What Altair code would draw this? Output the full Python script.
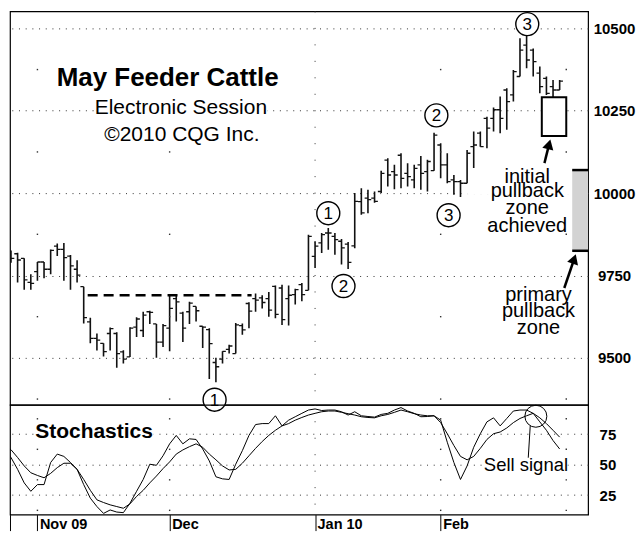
import altair as alt
import pandas as pd

# ---------------- data ----------------
bar_open = [9815, 9824, 9816, 9802, 9729, 9762, 9791, 9769, 9839, 9829, 9809, 9769, 9716, 9609, 9559, 9544, 9574,
            9574, 9518, 9503, 9593, 9583, 9640, 9603, 9548, 9590, 9680, 9636, 9640, 9656, 9596, 9586, 9486, 9496,
            9526, 9513, 9598, 9665, 9680, 9682, 9680, 9717, 9712, 9680, 9692, 9722, 9705, 9808, 9849, 9879, 9869,
            9854, 9845, 9840, 9974, 9985, 9985, 10005, 10100, 10065, 10115, 10060, 10040, 10086, 10065, 10068,
            10146, 10086, 10040, 10035, 10030, 10141, 10182, 10227, 10227, 10253, 10313, 10298, 10354, 10449,
            10434, 10364, 10348, 10323, 10313]
bar_high = [9830, 9826, 9819, 9802, 9754, 9791, 9791, 9829, 9847, 9849, 9812, 9796, 9716, 9622, 9574, 9544, 9592,
            9578, 9523, 9593, 9623, 9640, 9643, 9603, 9603, 9690, 9688, 9640, 9670, 9656, 9596, 9590, 9500, 9520,
            9540, 9606, 9604, 9669, 9695, 9690, 9700, 9720, 9722, 9720, 9710, 9727, 9874, 9854, 9879, 9894, 9879,
            9861, 9852, 10000, 10015, 10010, 10005, 10068, 10106, 10086, 10121, 10091, 10086, 10113, 10101, 10183,
            10151, 10121, 10055, 10040, 10131, 10187, 10187, 10232, 10260, 10293, 10318, 10374, 10470, 10480,
            10439, 10384, 10354, 10343, 10343]
bar_low = [9785, 9789, 9729, 9707, 9707, 9734, 9742, 9754, 9809, 9734, 9707, 9729, 9604, 9544, 9522, 9504, 9522,
           9470, 9483, 9503, 9563, 9563, 9603, 9500, 9533, 9520, 9610, 9548, 9603, 9610, 9530, 9436, 9426, 9483,
           9513, 9513, 9570, 9590, 9640, 9650, 9625, 9620, 9600, 9598, 9662, 9672, 9705, 9773, 9818, 9828, 9813,
           9783, 9770, 9833, 9934, 9939, 9971, 10000, 10020, 10012, 10015, 10020, 10015, 10010, 10005, 10068,
           10045, 10030, 9995, 9988, 10030, 10076, 10141, 10136, 10187, 10182, 10192, 10278, 10354, 10379,
           10354, 10303, 10298, 10273, 10313]
bar_close = [9801, 9802, 9797, 9737, 9726, 9791, 9769, 9826, 9829, 9804, 9779, 9751, 9622, 9559, 9554, 9519, 9589,
             9513, 9496, 9590, 9618, 9630, 9638, 9548, 9598, 9650, 9670, 9590, 9666, 9643, 9593, 9543, 9473, 9520,
             9536, 9600, 9585, 9642, 9675, 9668, 9645, 9632, 9616, 9690, 9707, 9692, 9869, 9839, 9874, 9879, 9859,
             9834, 9790, 9975, 9940, 9980, 9975, 10060, 10055, 10055, 10045, 10050, 10075, 10060, 10096, 10176,
             10086, 10035, 10035, 10030, 10121, 10146, 10141, 10197, 10253, 10227, 10278, 10369, 10434, 10404,
             10399, 10323, 10303, 10313, 10340]

stoch_fast = [62, 55.8, 46.1, 35, 28.1, 33.6, 33.6, 51.7, 58.6, 56.7, 51.7, 46.1, 33.6, 22.5, 15.6, 10, 12.8, 11.1,
              10.6, 18.3, 28.1, 37.8, 50.3, 49.4, 57.2, 67, 73.9, 67, 71.1, 70.6, 62.8, 53, 40, 38.3, 37.8, 50.3,
              61.4, 73.9, 82.8, 83.6, 83.6, 90, 81.7, 86.4, 89.2, 92, 94.7, 95.6, 94.3, 94.7, 94.7, 93.3, 90.6,
              93.3, 90, 89.4, 88.9, 91.1, 92, 94.7, 96.7, 93.9, 92, 89.2, 89.4, 90, 86.4, 68.3, 51.7, 37.8, 48.9,
              64.2, 75.3, 85, 88.3, 81.7, 87.8, 93.9, 94.7, 94.7, 92, 85, 78.1, 69.7, 62.8]
stoch_slow = [66, 62.2, 55.8, 48.9, 43.3, 41.1, 39.2, 42.8, 47.5, 51.1, 51.1, 46.1, 37.8, 28.9, 21.1, 18.9, 17, 15.6,
              14.2, 17.8, 23.9, 28.9, 35, 40.6, 46.7, 52.2, 58.6, 62, 64.7, 67, 64.2, 58.6, 53.9, 48.9, 45.6, 46.1,
              51.1, 57.2, 63.3, 68.9, 73.9, 78.1, 81.7, 83.6, 86.4, 88.6, 90.6, 92, 93.3, 93.9, 93.9, 92.8, 91.7,
              90.6, 89.2, 88.6, 88.3, 90, 91.1, 92.8, 94.7, 93.3, 91.7, 90.6, 90, 90, 84.4, 75.3, 65.6, 56.7, 53.9,
              56.7, 63.3, 70.6, 75.3, 76.7, 80, 84.4, 87.8, 90, 92, 88.3, 83.6, 78.1, 72.5]

month_ticks = [0.85, 5, 25, 47, 66]
month_labels = ["", "Nov 09", "Dec", "Jan 10", "Feb"]
dense_grid_months = [47]
sparse_grid_months = [5, 25, 66, 85]
price_ticks = [9500, 9750, 10000, 10250, 10500]
price_half_levels = [9375, 9625, 9875, 10125, 10375]
stoch_ticks = [25, 50, 75]
stoch_half_levels = [12.5, 37.5, 62.5, 87.5]

x_domain = [0.85, 88.3]
price_domain = [9357.6, 10551.5]
stoch_domain = [9, 99]

# annotations (bar index / price or stochastic value)
neckline = {"i": [12.6], "i2": [37.4], "p": [9690]}
initial_box = {"i": [81.3], "i2": [85.0], "p": [10173], "p2": [10291]}
primary_zone = {"i": [85.9], "i2": [88.3], "p": [9825], "p2": [10070]}
wave_labels = ["1", "2", "3", "1", "2", "3"]
wave_i = [31.8, 51.3, 67.2, 49.0, 65.35, 79.1]
wave_p = [9373, 9718, 9933, 9939, 10236, 10513]
title_text = ["May Feeder Cattle"]
title_i = [24.7]
title_p = [10350]
sub_text = ["Electronic Session", "©2010 CQG Inc."]
sub_i = [26.7, 26.85]
sub_p = [10258, 10176]
initial_text = ["initial", "pullback", "zone", "achieved"]
initial_i = [79.1, 79.1, 79.1, 79.1]
initial_p = [10032, 9987, 9936, 9881]
primary_text = ["primary", "pullback", "zone"]
primary_i = [80.8, 80.8, 80.8]
primary_p = [9673, 9624, 9573]
arrow_i = [81.7, 84.7]
arrow_p = [10091, 9712]
arrow_i2 = [82.4, 86.2]
arrow_p2 = [10148, 9800]
arrow_angle = [15, 19]
sell_circle_i = [80.4]
sell_circle_v = [89.6]
sell_line = {"i": [79.55], "v": [81.8], "i2": [79.25], "v2": [55.6]}
# gridline gaps behind the texts that sit on a gridline
price_gaps = {"i": [13.7, 70.0], "i2": [39.8, 85.9], "p": [10250, 10000]}
stoch_gaps = {"i": [4.6, 72.6], "i2": [22.6, 85.2], "v": [75, 50]}

FONT = "Liberation Sans"
INK = "#111"

xs = alt.Scale(domain=x_domain, nice=False, zero=False)
ps = alt.Scale(domain=price_domain, nice=False, zero=False)
ss = alt.Scale(domain=stoch_domain, nice=False, zero=False)

ohlc = pd.DataFrame({"i": list(range(len(bar_open))), "o": bar_open, "h": bar_high,
                     "l": bar_low, "c": bar_close})
ohlc["il"] = ohlc["i"] - 0.5
ohlc["ir"] = ohlc["i"] + 0.5

price_axis = alt.Axis(orient="right", values=price_ticks, format="d", grid=True, gridDash=[1, 5.7],
                      gridColor="#333", ticks=False, domain=False, labelFont=FONT, labelFontWeight="bold",
                      labelFontSize=15, labelColor="#000", labelAlign="center", labelPadding=26, title=None)
stoch_axis = alt.Axis(orient="right", values=stoch_ticks, grid=True, gridDash=[1, 5.7], gridColor="#333",
                      ticks=False, domain=False, labelFont=FONT, labelFontWeight="bold", labelFontSize=15,
                      labelColor="#000", labelAlign="left", labelPadding=11, title=None)
price_x_axis = alt.Axis(labels=False, ticks=False, domain=False, grid=False, title=None)
label_expr = " : ".join(f"datum.value == {v} ? '{t}'" for v, t in zip(month_ticks, month_labels)) + " : ''"
month_axis = alt.Axis(values=month_ticks, labelExpr=label_expr, grid=False, domain=False, tickSize=16,
                      tickColor="#000", tickWidth=1, labelPadding=-13.5, labelBaseline="top", labelAlign="left",
                      labelOffset=2, labelFont=FONT, labelFontWeight="bold", labelFontSize=14.5,
                      labelColor="#000", labelOverlap=False, labelBound=False, labelFlush=False, title=None)


def X(field, xa):
    return alt.X(field, scale=xs, axis=xa, title=None)


def text_layer(df, size, xa, ya, yscale, weight="normal", baseline="middle", align="center", ycol="p"):
    return alt.Chart(df).mark_text(color="#000", font=FONT, fontSize=size, fontWeight=weight,
                                   baseline=baseline, align=align).encode(
        x=X("i:Q", xa), y=alt.Y(f"{ycol}:Q", scale=yscale, axis=ya, title=None), text="t:N")


def grid_layers(half_levels, xa, ya, yscale):
    dense = alt.Chart(pd.DataFrame({"g": dense_grid_months})).mark_rule(
        color="#333", strokeWidth=1, strokeDash=[1, 15.5]).encode(x=X("g:Q", xa))
    sp = pd.DataFrame([(m, v) for m in sparse_grid_months for v in half_levels], columns=["g", "v"])
    sparse = alt.Chart(sp).mark_square(size=2, color="#333", opacity=1).encode(
        x=X("g:Q", xa), y=alt.Y("v:Q", scale=yscale, axis=ya, title=None))
    return dense + sparse


# ---------------- price panel ----------------
PXA, PYA = price_x_axis, price_axis


def PY(field):
    return alt.Y(field, scale=ps, axis=PYA, title=None)


p_grid = grid_layers(price_half_levels, PXA, PYA, ps)
p_gaps = alt.Chart(pd.DataFrame(price_gaps)).mark_rule(color="white", strokeWidth=3).encode(
    x=X("i:Q", PXA), x2="i2:Q", y=PY("p:Q"))
box = alt.Chart(pd.DataFrame(initial_box)).mark_rect(fill="white", stroke="#000", strokeWidth=2).encode(
    x=X("i:Q", PXA), x2="i2:Q", y=PY("p:Q"), y2="p2:Q")
zone = alt.Chart(pd.DataFrame(primary_zone)).mark_rect(fill="#d3d3d3").encode(
    x=X("i:Q", PXA), x2="i2:Q", y=PY("p:Q"), y2="p2:Q")
zone_df = pd.DataFrame({"i": primary_zone["i"] * 2, "i2": primary_zone["i2"] * 2,
                        "p": [primary_zone["p"][0], primary_zone["p2"][0]]})
zone_caps = alt.Chart(zone_df).mark_rule(color="#000", strokeWidth=2.5).encode(
    x=X("i:Q", PXA), x2="i2:Q", y=PY("p:Q"))
neck = alt.Chart(pd.DataFrame(neckline)).mark_rule(color="#000", strokeWidth=2.5, strokeDash=[10, 6]).encode(
    x=X("i:Q", PXA), x2="i2:Q", y=PY("p:Q"))

hl = alt.Chart(ohlc).mark_rule(color=INK, strokeWidth=1.6, clip=True).encode(
    x=X("i:Q", PXA), y=PY("l:Q"), y2="h:Q")
op = alt.Chart(ohlc).mark_rule(color=INK, strokeWidth=1.3, clip=True).encode(
    x=X("il:Q", PXA), x2="i:Q", y=PY("o:Q"))
cl = alt.Chart(ohlc).mark_rule(color=INK, strokeWidth=1.3, clip=True).encode(
    x=X("i:Q", PXA), x2="ir:Q", y=PY("c:Q"))

arrows_df = pd.DataFrame({"i": arrow_i, "p": arrow_p, "i2": arrow_i2, "p2": arrow_p2, "a": arrow_angle})
arrow_lines = alt.Chart(arrows_df).mark_rule(color="#000", strokeWidth=2.5).encode(
    x=X("i:Q", PXA), x2="i2:Q", y=PY("p:Q"), y2="p2:Q")
arrow_heads = alt.Chart(arrows_df).mark_point(shape="triangle-up", size=130, filled=True, color="#000",
                                              opacity=1).encode(
    x=X("i2:Q", PXA), y=PY("p2:Q"), angle=alt.Angle("a:Q", scale=None))

waves_df = pd.DataFrame({"t": wave_labels, "i": wave_i, "p": wave_p})
wave_circles = alt.Chart(waves_df).mark_point(shape="circle", size=529, filled=False, fill="white",
                                              stroke="#000", strokeWidth=1.4, opacity=1).encode(
    x=X("i:Q", PXA), y=PY("p:Q"))
wave_nums = alt.Chart(waves_df).mark_text(font=FONT, fontSize=17, color="#000", baseline="middle",
                                          align="center", dy=1).encode(
    x=X("i:Q", PXA), y=PY("p:Q"), text="t:N")

title_layer = text_layer(pd.DataFrame({"t": title_text, "i": title_i, "p": title_p}), 26, PXA, PYA, ps,
                         weight="bold")
sub_layer = text_layer(pd.DataFrame({"t": sub_text, "i": sub_i, "p": sub_p}), 21, PXA, PYA, ps)
initial_layer = text_layer(pd.DataFrame({"t": initial_text, "i": initial_i, "p": initial_p}), 20, PXA, PYA, ps,
                           baseline="alphabetic")
primary_layer = text_layer(pd.DataFrame({"t": primary_text, "i": primary_i, "p": primary_p}), 20, PXA, PYA, ps,
                           baseline="alphabetic")

price_chart = alt.layer(
    hl, p_grid, p_gaps, box, zone, zone_caps, op, cl, neck, arrow_lines, arrow_heads,
    title_layer, sub_layer, initial_layer, primary_layer, wave_circles, wave_nums
).properties(width=579, height=394)

# ---------------- stochastics panel ----------------
SXA, SYA = month_axis, stoch_axis


def SY(field):
    return alt.Y(field, scale=ss, axis=SYA, title=None)


st = pd.DataFrame({"i": list(range(len(stoch_fast))), "fast": stoch_fast, "slow": stoch_slow})
s_grid = grid_layers(stoch_half_levels, SXA, SYA, ss)
s_gaps = alt.Chart(pd.DataFrame(stoch_gaps)).mark_rule(color="white", strokeWidth=3).encode(
    x=X("i:Q", SXA), x2="i2:Q", y=SY("v:Q"))
slow_line = alt.Chart(st).mark_line(color="#000", strokeWidth=1, clip=True).encode(
    x=X("i:Q", SXA), y=SY("slow:Q"))
fast_line = alt.Chart(st).mark_line(color="#000", strokeWidth=1, clip=True).encode(
    x=X("i:Q", SXA), y=SY("fast:Q"))

sell_circle = alt.Chart(pd.DataFrame({"i": sell_circle_i, "v": sell_circle_v})).mark_point(
    shape="circle", size=484, filled=False, stroke="#000", strokeWidth=1, opacity=1).encode(
    x=X("i:Q", SXA), y=SY("v:Q"))
sell_pointer = alt.Chart(pd.DataFrame(sell_line)).mark_rule(color="#000", strokeWidth=1).encode(
    x=X("i:Q", SXA), x2="i2:Q", y=SY("v:Q"), y2="v2:Q")
sell_text = text_layer(pd.DataFrame({"t": ["Sell signal"], "i": [78.9], "v": [45]}), 18.5, SXA, SYA, ss,
                       baseline="alphabetic", ycol="v")
stoch_title = text_layer(pd.DataFrame({"t": ["Stochastics"], "i": [4.67], "v": [72]}), 21, SXA, SYA, ss,
                         weight="bold", baseline="alphabetic", align="left", ycol="v")

stoch_chart = alt.layer(
    slow_line, s_grid, s_gaps, fast_line, stoch_title, sell_pointer, sell_text, sell_circle
).properties(width=579, height=110)

chart = alt.vconcat(price_chart, stoch_chart, spacing=0, bounds="flush").properties(
    padding={"left": 0, "top": 0, "right": 0, "bottom": 0}
).configure(font=FONT).configure_view(stroke="#000", strokeWidth=1.2)

chart.save("out.html", embed_options={"renderer": "svg", "actions": False})
